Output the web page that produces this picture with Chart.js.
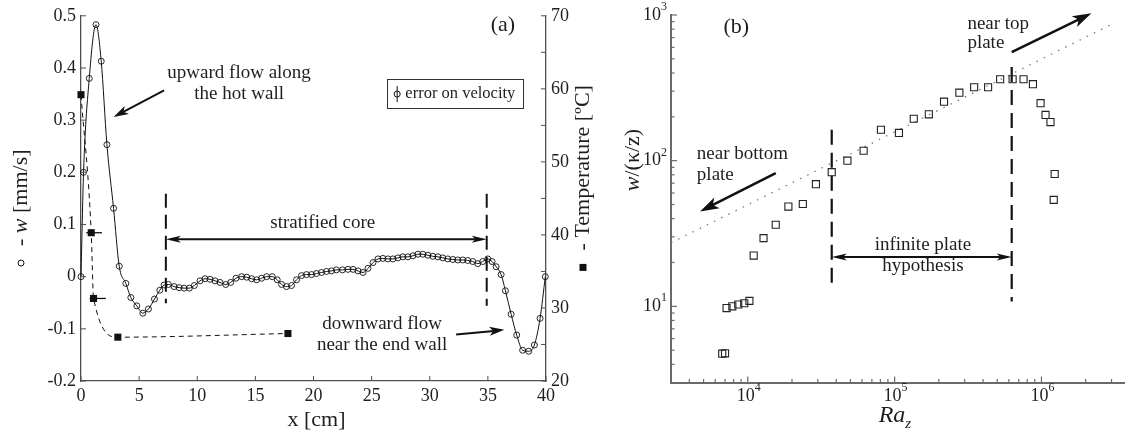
<!DOCTYPE html>
<html><head><meta charset="utf-8">
<script src="https://cdn.jsdelivr.net/npm/chart.js@4/dist/chart.umd.min.js"></script>
<style>
html,body{margin:0;padding:0;background:#fff;}
#wrap{position:relative;width:1131px;height:435px;overflow:hidden;background:#fff;}
#ca{position:absolute;left:0;top:0;}
#cb{position:absolute;left:600px;top:0;}
</style></head><body>
<div id="wrap"><canvas id="ca" width="600" height="435"></canvas><canvas id="cb" width="531" height="435"></canvas></div>
<script>
// ---------------- DATA: panel (a) ----------------
const velX = [0,0.22,0.71,1.29,1.74,2.23,2.80,3.29,3.86,4.29,
4.80,5.32,5.80,6.32,6.78,7.15,7.52,8.01,8.44,8.87,
9.32,9.75,10.24,10.67,11.10,11.53,11.96,12.45,12.88,13.33,
13.82,14.25,14.68,15.11,15.54,15.97,16.45,16.88,17.25,17.68,
18.11,18.54,18.97,19.40,19.83,20.26,20.69,21.12,21.55,21.97,
22.49,22.97,23.40,23.83,24.26,24.69,25.12,25.55,25.97,26.40,
26.83,27.26,27.69,28.12,28.55,28.98,29.41,29.84,30.27,30.70,
31.12,31.55,31.98,32.41,32.84,33.27,33.70,34.13,34.56,34.99,
35.36,35.71,36.14,36.51,37.00,37.48,37.99,38.51,39.00,39.49,39.94];
const velW = [0,0.20,0.38,0.483,0.413,0.253,0.131,0.020,-0.013,-0.040,
-0.056,-0.070,-0.062,-0.043,-0.026,-0.016,-0.015,-0.019,-0.021,-0.022,
-0.022,-0.017,-0.008,-0.004,-0.005,-0.008,-0.011,-0.015,-0.011,-0.003,
0.000,-0.001,-0.004,-0.006,-0.003,0.000,0.000,-0.006,-0.015,-0.019,
-0.017,-0.006,0.002,0.004,0.004,0.006,0.008,0.010,0.011,0.013,
0.013,0.014,0.014,0.011,0.008,0.016,0.027,0.034,0.035,0.034,
0.034,0.036,0.038,0.038,0.040,0.043,0.043,0.041,0.039,0.038,
0.036,0.034,0.033,0.032,0.032,0.031,0.029,0.025,0.029,0.034,
0.029,0.019,0.004,-0.027,-0.072,-0.112,-0.141,-0.143,-0.131,-0.080,0.000];
const tempX = [0,0.88,1.08,3.17,17.8];
const tempT = [59.2,40.3,31.3,26.0,26.5];
const tempErrLo = [null,0.45,0.74,null,null];
const tempErrHi = [null,1.80,2.14,null,null];
const aXTicks = [0,5,10,15,20,25,30,35,40];
const aYTicks = [-0.2,-0.1,0,0.1,0.2,0.3,0.4,0.5];
const aY2Ticks = [20,30,40,50,60,70];
const aY2Minor = [25,35,45,55,65];
const coreX = [7.3,34.9];
const coreTop = [0.159,0.159];
const coreBot = [-0.051,-0.056];
const coreArrowW = 0.0715;

// ---------------- DATA: panel (b) ----------------
const raZ = [6700,7000,7170,7850,8610,9460,10260,10970,12800,15500,
18900,23700,29100,37300,47700,61500,80700,107000,135000,171000,
217000,276000,348000,433000,523000,636000,755000,875000,986000,1066000,
1152000,1230000,1212000];
const wKz = [4.73,4.76,9.73,10.0,10.3,10.5,10.9,22.3,29.4,36.3,
48.4,50.4,69.0,83.4,100,117,163,155,194,208,
254,293,319,319,362,362,362,335,248,206,
184,81,53.8];
const fitRa = [3000,3.0e6];
const fitW = [27.3,862];
const bXTicks = [1e4,1e5,1e6];
const bXExp = ['4','5','6'];
const bYTicks = [10,100,1000];
const bYExp = ['1','2','3'];
const plateX = [37300,627000];
const plateTop = [163,440];
const plateBot = [12.8,10.8];
const plateArrowW = 21.8;

// ---------------- styles ----------------
const FONT = "'Liberation Serif','DejaVu Serif',serif";
const TXT = '#1e1e1e';
const AXA = '#505050';
const AXB = '#6a6a6a';

function txt(ctx, s, px, py, size, align, style) {
  ctx.font = (style || '') + ' ' + size + 'px ' + FONT;
  ctx.textAlign = align || 'center';
  ctx.textBaseline = 'middle';
  ctx.fillStyle = TXT;
  ctx.fillText(s, px, py);
}
function seg(ctx, x1, y1, x2, y2) {
  ctx.beginPath(); ctx.moveTo(x1, y1); ctx.lineTo(x2, y2); ctx.stroke();
}
function head(ctx, x1, y1, x2, y2, L, W) {
  const a = Math.atan2(y2 - y1, x2 - x1), c = Math.cos(a), s = Math.sin(a);
  ctx.beginPath();
  ctx.moveTo(x2, y2);
  ctx.lineTo(x2 - L * c + W * s, y2 - L * s - W * c);
  ctx.lineTo(x2 - 0.75 * L * c, y2 - 0.75 * L * s);
  ctx.lineTo(x2 - L * c - W * s, y2 - L * s + W * c);
  ctx.closePath(); ctx.fill();
}
function arrow(ctx, x1, y1, x2, y2, L, W, lw) {
  const a = Math.atan2(y2 - y1, x2 - x1);
  ctx.save();
  ctx.strokeStyle = '#111'; ctx.fillStyle = '#111'; ctx.lineWidth = lw;
  seg(ctx, x1, y1, x2 - 0.7 * L * Math.cos(a), y2 - 0.7 * L * Math.sin(a));
  head(ctx, x1, y1, x2, y2, L, W);
  ctx.restore();
}
function dblArrow(ctx, x1, y, x2, L, W, lw) {
  ctx.save();
  ctx.strokeStyle = '#111'; ctx.fillStyle = '#111'; ctx.lineWidth = lw;
  seg(ctx, x1 + 0.7 * L, y, x2 - 0.7 * L, y);
  head(ctx, x2, y, x1, y, L, W);
  head(ctx, x1, y, x2, y, L, W);
  ctx.restore();
}
// rotated mixed-style label, pieces: {t, style, size} or {sym:'circle'|'square'}
function rotLabel(ctx, cx, cy, pieces) {
  ctx.save();
  ctx.translate(cx, cy); ctx.rotate(-Math.PI / 2);
  let total = 0;
  pieces.forEach(p => {
    if (p.sym) { p.w = p.gap + 7; }
    else { ctx.font = (p.style || '') + ' ' + p.size + 'px ' + FONT; p.w = ctx.measureText(p.t).width; }
    total += p.w;
  });
  let xx = -total / 2;
  pieces.forEach(p => {
    if (p.sym === 'circle') {
      ctx.strokeStyle = '#111'; ctx.lineWidth = 1;
      ctx.beginPath(); ctx.arc(xx + 3.5, 0, 3, 0, Math.PI * 2); ctx.stroke();
    } else if (p.sym === 'square') {
      ctx.fillStyle = '#111'; ctx.fillRect(xx, -3.5, 7, 7);
    } else {
      ctx.font = (p.style || '') + ' ' + p.size + 'px ' + FONT;
      ctx.textAlign = 'left'; ctx.textBaseline = 'middle'; ctx.fillStyle = TXT;
      ctx.fillText(p.t, xx, 0);
    }
    xx += p.w;
  });
  ctx.restore();
}

// ---------------- panel (a) ----------------
const aNotes = [
  {t:'upward flow along', x:13.6, y:0.390},
  {t:'the hot wall', x:13.6, y:0.350},
  {t:'stratified core', x:20.8, y:0.103},
  {t:'downward flow', x:25.9, y:-0.090},
  {t:'near the end wall', x:25.9, y:-0.131}
];
const aArrows = [
  {x1:7.15, y1:0.357, x2:2.80, y2:0.306},
  {x1:32.27, y1:-0.111, x2:36.42, y2:-0.102}
];

const plugA = {
  id: 'plugA',
  afterDraw(chart) {
    const ctx = chart.ctx, x = chart.scales.x, y = chart.scales.y, y2 = chart.scales.y2, ca = chart.chartArea;
    ctx.save();
    // inward ticks
    ctx.strokeStyle = AXA; ctx.lineWidth = 1;
    aXTicks.forEach(v => { const p = x.getPixelForValue(v); seg(ctx, p, ca.bottom, p, ca.bottom - 5); });
    aYTicks.forEach(v => { const p = y.getPixelForValue(v); seg(ctx, ca.left, p, ca.left + 5, p); });
    aY2Ticks.concat(aY2Minor).forEach(v => { const p = y2.getPixelForValue(v); seg(ctx, ca.right, p, ca.right - 5, p); });
    // horizontal error bars on temperature
    ctx.strokeStyle = '#111'; ctx.lineWidth = 1.3;
    tempX.forEach((v, i) => {
      if (tempErrLo[i] === null) return;
      const py = y2.getPixelForValue(tempT[i]);
      seg(ctx, x.getPixelForValue(tempErrLo[i]), py, x.getPixelForValue(tempErrHi[i]), py);
    });
    // annotations
    aNotes.forEach(n => txt(ctx, n.t, x.getPixelForValue(n.x), y.getPixelForValue(n.y), 19));
    txt(ctx, '(a)', x.getPixelForValue(36.3), y.getPixelForValue(0.482), 22);
    aArrows.forEach(a => arrow(ctx, x.getPixelForValue(a.x1), y.getPixelForValue(a.y1),
      x.getPixelForValue(a.x2), y.getPixelForValue(a.y2), 15, 4.5, 2));
    dblArrow(ctx, x.getPixelForValue(coreX[0]), y.getPixelForValue(coreArrowW), x.getPixelForValue(coreX[1]), 15, 3.5, 2);
    // legend box
    const lx1 = x.getPixelForValue(26.3), lx2 = x.getPixelForValue(38.0);
    const ly1 = y.getPixelForValue(0.378), ly2 = y.getPixelForValue(0.322);
    ctx.strokeStyle = '#333'; ctx.lineWidth = 1;
    ctx.strokeRect(Math.round(lx1) + 0.5, Math.round(ly1) + 0.5, Math.round(lx2 - lx1), Math.round(ly2 - ly1));
    const icx = x.getPixelForValue(27.2), icy = (ly1 + ly2) / 2;
    ctx.strokeStyle = '#111';
    seg(ctx, icx, icy - 8, icx, icy + 8);
    ctx.beginPath(); ctx.arc(icx, icy, 3, 0, Math.PI * 2); ctx.stroke();
    txt(ctx, 'error on velocity', x.getPixelForValue(27.9), icy, 16.5, 'left');
    // axis titles
    txt(ctx, 'x [cm]', (ca.left + ca.right) / 2 + 3, 420, 22);
    rotLabel(ctx, 21, 208, [{sym:'circle', gap:8}, {t:' - ', size:22}, {t:'w', size:22, style:'italic'}, {t:' [mm/s]', size:22}]);
    rotLabel(ctx, 583, 178, [{sym:'square', gap:8}, {t:' - Temperature [\u00baC]', size:22}]);
    ctx.restore();
  }
};

const dashA = coreX.map((cx, i) => ({
  data: [{x: cx, y: coreTop[i]}, {x: cx, y: coreBot[i]}],
  yAxisID: 'y', borderColor: '#111', borderWidth: 2, borderDash: [14, 7],
  pointRadius: 0, fill: false, tension: 0
}));

new Chart(document.getElementById('ca'), {
  type: 'line',
  data: { datasets: [
    { data: velX.map((v, i) => ({x: v, y: velW[i]})), yAxisID: 'y',
      borderColor: '#111', borderWidth: 1, pointStyle: 'circle', pointRadius: 3,
      pointBorderColor: '#111', pointBackgroundColor: 'rgba(255,255,255,0)', pointBorderWidth: 0.9,
      cubicInterpolationMode: 'monotone', clip: false, fill: false },
    { data: tempX.map((v, i) => ({x: v, y: tempT[i]})), yAxisID: 'y2',
      borderColor: '#111', borderWidth: 1, borderDash: [5, 4], pointStyle: 'rect', pointRadius: 5,
      pointBorderColor: '#111', pointBackgroundColor: '#111', pointBorderWidth: 0,
      cubicInterpolationMode: 'monotone', clip: false, fill: false }
  ].concat(dashA) },
  options: {
    responsive: false, animation: false, devicePixelRatio: 1,
    layout: { padding: { top: 15, left: 0, right: 0, bottom: 0 } },
    plugins: { legend: { display: false }, tooltip: { enabled: false } },
    scales: {
      x: { type: 'linear', position: 'bottom', min: 0, max: 40,
        afterBuildTicks: s => { s.ticks = aXTicks.map(v => ({value: v})); },
        afterFit: s => { s.height = 54; },
        grid: { display: false, drawTicks: false }, border: { display: true, color: AXA, width: 1.3 },
        ticks: { color: TXT, font: { family: FONT, size: 18 }, padding: 4, maxRotation: 0,
          callback: v => String(v) } },
      y: { type: 'linear', position: 'left', min: -0.2, max: 0.5,
        afterBuildTicks: s => { s.ticks = aYTicks.map(v => ({value: v})); },
        afterFit: s => { s.width = 81; },
        grid: { display: false, drawTicks: false }, border: { display: true, color: AXA, width: 1.3 },
        ticks: { color: TXT, font: { family: FONT, size: 18 }, padding: 5,
          callback: v => (Math.abs(v) < 1e-9 ? '0' : (+v).toFixed(1)) } },
      y2: { type: 'linear', position: 'right', min: 20, max: 70,
        afterBuildTicks: s => { s.ticks = aY2Ticks.map(v => ({value: v})); },
        afterFit: s => { s.width = 54; },
        grid: { display: false, drawTicks: false }, border: { display: true, color: AXA, width: 1.3 },
        ticks: { color: TXT, font: { family: FONT, size: 18 }, padding: 5, callback: v => String(v) } }
    }
  },
  plugins: [plugA]
});

// ---------------- panel (b) ----------------
const bNotes = [
  {t:'near bottom', x:4500, y:111, al:'left'},
  {t:'plate', x:4500, y:80, al:'left'},
  {t:'near top', x:313000, y:873, al:'left'},
  {t:'plate', x:313000, y:643, al:'left'},
  {t:'infinite plate', x:156000, y:26.3, al:'center'},
  {t:'hypothesis', x:156000, y:18.9, al:'center'}
];
const bArrows = [
  {x1:15500, y1:82, x2:4730, y2:44.8},
  {x1:627000, y1:555, x2:2.19e6, y2:1027}
];
function decadeMinor(lo, hi) {
  const out = [];
  for (let e = Math.floor(Math.log10(lo)); e <= Math.ceil(Math.log10(hi)); e++) {
    for (let k = 2; k <= 9; k++) { const v = k * Math.pow(10, e); if (v > lo && v < hi) out.push(v); }
  }
  return out;
}
const plugB = {
  id: 'plugB',
  afterDraw(chart) {
    const ctx = chart.ctx, x = chart.scales.x, y = chart.scales.y, ca = chart.chartArea;
    ctx.save();
    ctx.strokeStyle = AXB; ctx.lineWidth = 1.2;
    bXTicks.forEach(v => { const p = x.getPixelForValue(v); seg(ctx, p, ca.bottom, p, ca.bottom - 6); });
    decadeMinor(x.min, x.max).forEach(v => { const p = x.getPixelForValue(v); seg(ctx, p, ca.bottom, p, ca.bottom - 3.5); });
    bYTicks.forEach(v => { const p = y.getPixelForValue(v); seg(ctx, ca.left, p, ca.left + 6, p); });
    decadeMinor(y.min, y.max).forEach(v => { const p = y.getPixelForValue(v); seg(ctx, ca.left, p, ca.left + 3.5, p); });
    // tick labels with superscripts
    bXTicks.forEach((v, i) => {
      const p = x.getPixelForValue(v) + 1;
      ctx.font = '18px ' + FONT; const wb = ctx.measureText('10').width;
      ctx.font = '12px ' + FONT; const we = ctx.measureText(bXExp[i]).width;
      const x0 = p - (wb + we) / 2;
      txt(ctx, '10', x0, 396, 18, 'left');
      txt(ctx, bXExp[i], x0 + wb, 388, 12, 'left');
    });
    bYTicks.forEach((v, i) => {
      const p = y.getPixelForValue(v);
      ctx.font = '12px ' + FONT; const we = ctx.measureText(bYExp[i]).width;
      const xr = ca.left - 4;
      txt(ctx, bYExp[i], xr, p - 8, 12, 'right');
      txt(ctx, '10', xr - we, p, 18, 'right');
    });
    bNotes.forEach(n => txt(ctx, n.t, x.getPixelForValue(n.x), y.getPixelForValue(n.y), 19, n.al));
    txt(ctx, '(b)', x.getPixelForValue(8360), y.getPixelForValue(820), 22);
    bArrows.forEach(a => arrow(ctx, x.getPixelForValue(a.x1), y.getPixelForValue(a.y1),
      x.getPixelForValue(a.x2), y.getPixelForValue(a.y2), 19, 6, 2.5));
    dblArrow(ctx, x.getPixelForValue(plateX[0]), y.getPixelForValue(plateArrowW), x.getPixelForValue(plateX[1]), 15, 3.5, 2);
    // axis titles
    rotLabel(ctx, 33, 160, [{t:'w', size:22, style:'italic'}, {t:'/(\u03ba/z)', size:22}]);
    const cxT = 297;
    ctx.font = 'italic 24px ' + FONT; const wRa = ctx.measureText('Ra').width;
    txt(ctx, 'Ra', cxT - 5, 416, 24, 'center', 'italic');
    txt(ctx, 'z', cxT - 5 + wRa / 2, 424, 15, 'left', 'italic');
    ctx.restore();
  }
};

const dashB = plateX.map((px, i) => ({
  data: [{x: px, y: plateTop[i]}, {x: px, y: plateBot[i]}],
  showLine: true, borderColor: '#111', borderWidth: 2.2, borderDash: [15, 8],
  pointRadius: 0, fill: false
}));

new Chart(document.getElementById('cb'), {
  type: 'scatter',
  data: { datasets: [
    { data: raZ.map((v, i) => ({x: v, y: wKz[i]})), pointStyle: 'rect', pointRadius: 5,
      pointBorderColor: '#222', pointBackgroundColor: 'rgba(255,255,255,0)', pointBorderWidth: 1.1,
      showLine: false, clip: false },
    { data: fitRa.map((v, i) => ({x: v, y: fitW[i]})), showLine: true, borderColor: '#7a7a7a',
      borderWidth: 1.3, borderDash: [1.5, 6.5], pointRadius: 0, fill: false }
  ].concat(dashB) },
  options: {
    responsive: false, animation: false, devicePixelRatio: 1,
    layout: { padding: { top: 15, left: 0, right: 0, bottom: 0 } },
    plugins: { legend: { display: false }, tooltip: { enabled: false } },
    scales: {
      x: { type: 'logarithmic', position: 'bottom', min: 3000, max: 3.7e6,
        afterFit: s => { s.height = 52.5; },
        grid: { display: false, drawTicks: false }, border: { display: true, color: AXB, width: 2 },
        ticks: { display: false } },
      y: { type: 'logarithmic', position: 'left', min: 3, max: 1000,
        afterFit: s => { s.width = 71; },
        grid: { display: false, drawTicks: false }, border: { display: true, color: AXB, width: 2 },
        ticks: { display: false } }
    }
  },
  plugins: [plugB]
});
</script>
</body></html>
